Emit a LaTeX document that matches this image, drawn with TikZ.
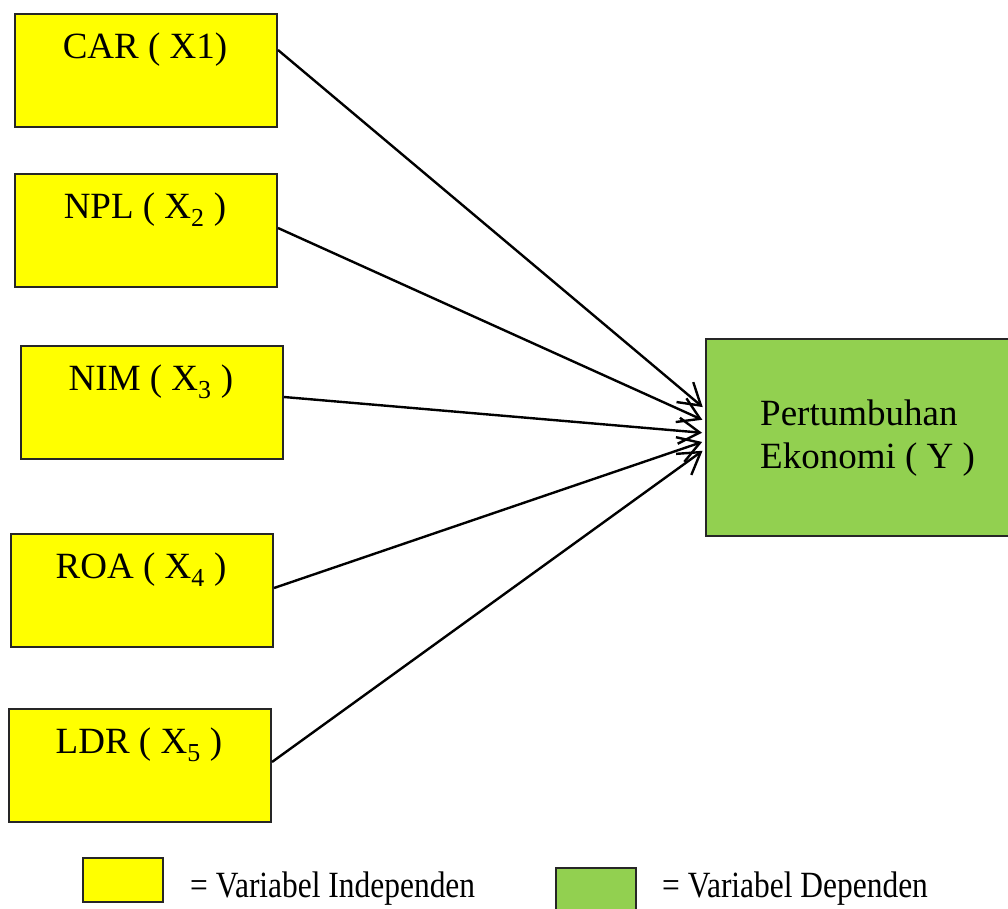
\documentclass[tikz,border=0pt]{standalone}
\usepackage{fontspec}
\setmainfont{Liberation Serif}
\usetikzlibrary{arrows.meta,calc}
\definecolor{indep}{HTML}{FFFF00}
\definecolor{dep}{HTML}{92D050}
\tikzset{
  varbox/.style={draw=black!85, line width=2pt, inner sep=0pt, anchor=north west,
    minimum width=262pt, minimum height=113pt},
  indepbox/.style={varbox, fill=indep},
  depbox/.style={draw=black!85, line width=2pt, inner sep=0pt, anchor=north west,
    fill=dep, minimum width=305pt, minimum height=197pt},
  lbl/.style={inner sep=0pt, anchor=base, font=\fontsize{37}{44}\selectfont},
  legtext/.style={inner sep=0pt, anchor=base west, font=\fontsize{37}{44}\selectfont},
  link/.style={line width=2.4pt, -{Straight Barb[length=21pt,width=26pt,line width=2.4pt]}, shorten >=3pt},
}
\begin{document}
\begin{tikzpicture}[x=1pt,y=-1pt]
\useasboundingbox (0,0) rectangle (1008,908);
% independent variables
\node[indepbox] (car) at (14,13) {};
\node[indepbox] (npl) at (14,173) {};
\node[indepbox] (nim) at (20,345) {};
\node[indepbox] (roa) at (10,533) {};
\node[indepbox] (ldr) at (8,708) {};
\node[lbl] (car-t) at (145,58) {CAR ( X1)};
\node[lbl] (npl-t) at (145,218) {NPL ( X\textsubscript{2} )};
\node[lbl] (nim-t) at (151,390) {NIM ( X\textsubscript{3} )};
\node[lbl] (roa-t) at (141,578) {ROA ( X\textsubscript{4} )};
\node[lbl] (ldr-t) at (139,753) {LDR ( X\textsubscript{5} )};
% dependent variable
\node[depbox] (pe) at (705,338) {};
\node[legtext] (pe-t1) at (760,425) {Pertumbuhan};
\node[legtext] (pe-t2) at (760,468) {Ekonomi ( Y )};
% connectors
\draw[link] ([yshift=-37pt]car.north east) -- ([yshift=28.5pt]pe.west);
\draw[link] ([yshift=-55pt]npl.north east) -- ([yshift=16.5pt]pe.west);
\draw[link] ([yshift=-52pt]nim.north east) -- ([yshift=4.5pt]pe.west);
\draw[link] ([yshift=-55pt]roa.north east) -- ([yshift=-3.5pt]pe.west);
\draw[link] ([yshift=-54pt]ldr.north east) -- ([yshift=-11.5pt]pe.west);
% legend
\node[draw=black!85, line width=2pt, fill=indep, anchor=north west, inner sep=0pt,
  minimum width=80pt, minimum height=44pt] (leg-i) at (82,857) {};
\node[legtext] (leg-i-t) at (190,897) {\scalebox{0.85}[1]{= Variabel Independen}};
\node[draw=black!85, line width=2pt, fill=dep, anchor=north west, inner sep=0pt,
  minimum width=80pt, minimum height=46pt] (leg-d) at (555,867) {};
\node[legtext] (leg-d-t) at (662,897) {\scalebox{0.85}[1]{= Variabel Dependen}};
\end{tikzpicture}
\end{document}
